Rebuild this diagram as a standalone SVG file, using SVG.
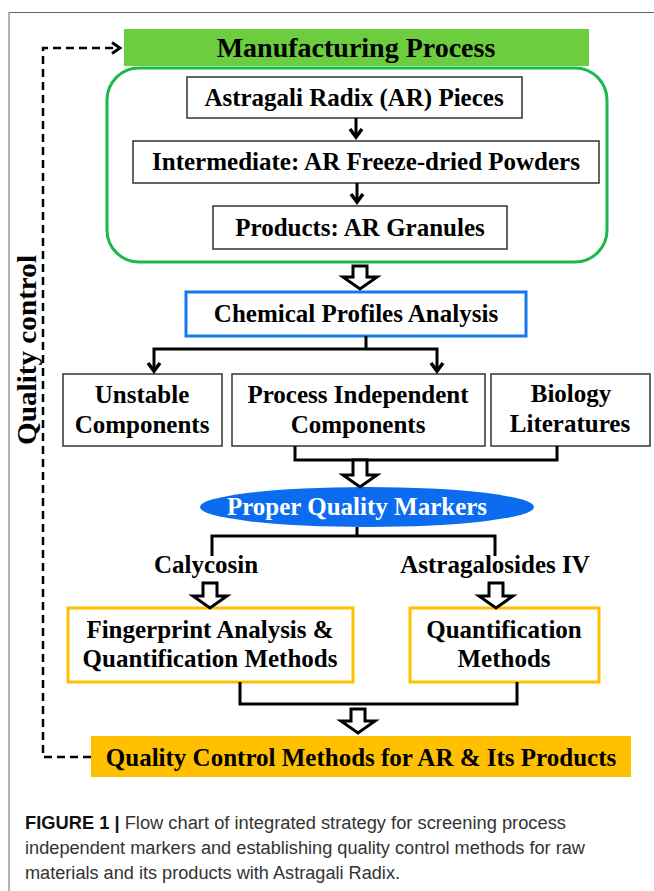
<svg xmlns="http://www.w3.org/2000/svg" width="654" height="891" viewBox="0 0 654 891">
<style>
.t{font-family:"Liberation Serif","Times New Roman",serif;font-weight:bold;font-size:25px;fill:#000;text-anchor:middle}
.box{fill:#fff;stroke:#333;stroke-width:1.5}
.ln{fill:none;stroke:#000;stroke-width:3}
.chev{fill:none;stroke:#000;stroke-width:3.5;stroke-linejoin:miter}
.blk{fill:#fff;stroke:#000;stroke-width:3;stroke-linejoin:miter}
.dash{fill:none;stroke:#000;stroke-width:2.5;stroke-dasharray:8 5}
.cap{font-family:"Liberation Sans",Arial,sans-serif;font-size:18px;fill:#333}
</style>
<rect width="654" height="891" fill="#fff"/>
<path d="M9,891 V12.5 H654" fill="none" stroke="#666" stroke-width="1"/>

<g id="manufacturing-title">
<rect x="124" y="29" width="465" height="37" fill="#6ccd3e"/>
<text class="t" x="356" y="57" style="font-size:28px">Manufacturing Process</text>
</g>
<g id="manufacturing-group">
<rect x="107" y="68" width="500" height="194" rx="32" ry="32" fill="none" stroke="#1cb84a" stroke-width="3"/>
</g>
<g id="ar-pieces">
<rect class="box" x="187" y="77" width="335" height="41"/>
<text class="t" x="354" y="106">Astragali Radix (AR) Pieces</text>
</g>
<g id="intermediate">
<rect class="box" x="133" y="141" width="466" height="42"/>
<text class="t" x="366" y="170">Intermediate: AR Freeze-dried Powders</text>
</g>
<g id="products">
<rect class="box" x="213" y="206" width="294" height="43"/>
<text class="t" x="360" y="236">Products: AR Granules</text>
</g>
<g id="chemical-profiles">
<rect x="186" y="292" width="340" height="44" fill="#fff" stroke="#1877ee" stroke-width="3"/>
<text class="t" x="356" y="322">Chemical Profiles Analysis</text>
</g>
<g id="unstable">
<rect class="box" x="63" y="374" width="159" height="72"/>
<text class="t" x="142" y="403">Unstable</text>
<text class="t" x="142" y="433">Components</text>
</g>
<g id="process-independent">
<rect class="box" x="232" y="374" width="253" height="72"/>
<text class="t" x="358" y="403">Process Independent</text>
<text class="t" x="358" y="433">Components</text>
</g>
<g id="biology">
<rect class="box" x="491" y="374" width="159" height="72"/>
<text class="t" x="571" y="402">Biology</text>
<text class="t" x="570" y="432">Literatures</text>
</g>
<g id="quality-markers">
<ellipse cx="367" cy="507" rx="167" ry="20" fill="#0b6cf0"/>
<text class="t" x="357" y="515" style="fill:#fff">Proper Quality Markers</text>
</g>
<g id="calycosin">
<text class="t" x="206" y="573">Calycosin</text>
</g>
<g id="astragalosides">
<text class="t" x="495" y="573">Astragalosides IV</text>
</g>
<g id="fingerprint">
<rect x="68" y="608" width="285" height="74" fill="#fff" stroke="#ffc000" stroke-width="3"/>
<text class="t" x="210" y="638">Fingerprint Analysis &amp;</text>
<text class="t" x="210" y="667">Quantification Methods</text>
</g>
<g id="quantification">
<rect x="410" y="608" width="189" height="74" fill="#fff" stroke="#ffc000" stroke-width="3"/>
<text class="t" x="504" y="638">Quantification</text>
<text class="t" x="504" y="667">Methods</text>
</g>
<g id="qc-methods">
<rect x="91" y="736" width="540" height="41" fill="#ffc000"/>
<text class="t" x="361" y="766">Quality Control Methods for AR &amp; Its Products</text>
</g>
<g id="quality-control-label">
<text class="t" transform="translate(36,350) rotate(-90)" x="0" y="0" style="font-size:28px" textLength="190" lengthAdjust="spacingAndGlyphs">Quality control</text>
</g>

<g id="connectors">
<path class="dash" d="M91,757 H43 V48 H116"/>
<path d="M112,42.5 L120,48 L112,53.5" fill="none" stroke="#000" stroke-width="2.8"/>
<path class="ln" d="M356,118 V135"/>
<path class="chev" d="M350,129 L356,137 L362,129"/>
<path class="ln" d="M357,183 V200"/>
<path class="chev" d="M351,194 L357,202 L363,194"/>
<path class="blk" d="M353,266 V277 H343 L360,289 L377,277 H367 V266 Z"/>
<path class="ln" d="M366,336 V349 M154,369 V349 H437 V369"/>
<path class="chev" d="M148,363 L154,371 L160,363 M431,363 L437,371 L443,363"/>
<path class="ln" d="M295,446 V460 H557 V446"/>
<path class="blk" d="M353,460 V475 H343 L360,487 L377,475 H367 V460 Z"/>
<path class="ln" d="M357,527 V536 M212,556 V536 H495 V556"/>
<path class="blk" d="M203,583 V596 H193 L210,608 L227,596 H217 V583 Z"/>
<path class="blk" d="M489,583 V596 H479 L496,608 L513,596 H503 V583 Z"/>
<path class="ln" d="M240,682 V704 H517 V682"/>
<path class="blk" d="M351,709 V721 H341 L358,733 L375,721 H365 V709 Z"/>
</g>

<g id="caption">
<text class="cap" x="25" y="829" textLength="541" lengthAdjust="spacingAndGlyphs"><tspan font-weight="bold" fill="#111">FIGURE 1 |</tspan> Flow chart of integrated strategy for screening process</text>
<text class="cap" x="25" y="854" textLength="560" lengthAdjust="spacingAndGlyphs">independent markers and establishing quality control methods for raw</text>
<text class="cap" x="25" y="879" textLength="375" lengthAdjust="spacingAndGlyphs">materials and its products with Astragali Radix.</text>
</g>
</svg>
